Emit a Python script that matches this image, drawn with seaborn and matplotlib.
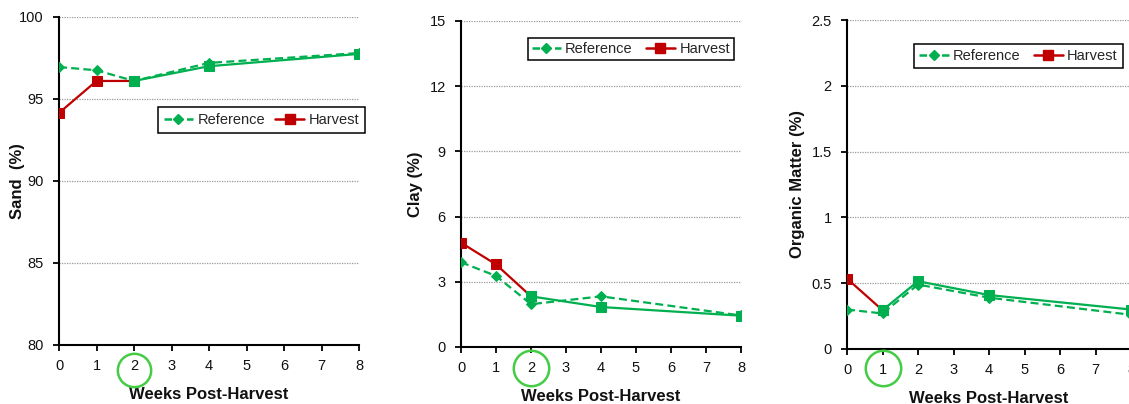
import matplotlib
matplotlib.use("Agg")
import matplotlib.pyplot as plt
import seaborn as sns
from matplotlib.transforms import blended_transform_factory
from matplotlib.lines import Line2D

# ---------------- data ----------------
weeks = [0, 1, 2, 4, 8]
sand_reference = [96.95, 96.75, 96.1, 97.2, 97.8]
sand_harvest = [94.15, 96.1, 96.1, 97.0, 97.75]
clay_reference = [3.9, 3.27, 1.97, 2.33, 1.45]
clay_harvest = [4.8, 3.8, 2.33, 1.84, 1.44]
om_reference = [0.30, 0.27, 0.49, 0.39, 0.26]
om_harvest = [0.535, 0.295, 0.515, 0.41, 0.30]
circled_week = [2, 2, 1]
series_names = ["Reference", "Harvest"]
y_labels = ["Sand  (%)", "Clay (%)", "Organic Matter (%)"]
y_ticks = [[80, 85, 90, 95, 100], [0, 3, 6, 9, 12, 15], [0, 0.5, 1, 1.5, 2, 2.5]]
y_ticklabels = [["80", "85", "90", "95", "100"],
                ["0", "3", "6", "9", "12", "15"],
                ["0", "0.5", "1", "1.5", "2", "2.5"]]
x_ticks = list(range(9))
x_label = "Weeks Post-Harvest"

# ---------------- style ----------------
sns.set_theme(style="white")
plt.rcParams["font.family"] = ["Liberation Sans", "DejaVu Sans"]

GREEN = "#00B050"
RED = "#C00000"
CIRCLE = "#44CC44"
W, H = 1129, 404

fig = plt.figure(figsize=(W / 100, H / 100), dpi=100)

# axes placement in pixels: left, right, top, bottom
boxes = [(59, 359, 17, 345), (461, 741, 21, 347), (847, 1131, 20, 349)]
ylab_x = [-0.113, -0.136, -0.148]
legend_anchor = [(0.33, 0.7256), (0.239, 0.947), (0.237, 0.927)]
legend_pad = [0.4, 0.25, 0.35]
legend_colsp = [0.7, 0.9, 0.9]
circle_y = [-0.076, -0.064, -0.058]
circle_ms = [24, 25.5, 25.5]

refs = [sand_reference, clay_reference, om_reference]
harvs = [sand_harvest, clay_harvest, om_harvest]

dash = (0, (3.6, 1.9))

for i in range(3):
    l, r, t, b = boxes[i]
    ax = fig.add_axes([l / W, (H - b) / H, (r - l) / W, (b - t) / H])

    # Reference series
    sns.lineplot(x=weeks, y=refs[i], ax=ax, color=GREEN, linestyle=dash,
                 linewidth=1.6, marker="D", markersize=5,
                 markeredgecolor=GREEN, markerfacecolor=GREEN, sort=False, zorder=3)

    cw = circled_week[i]
    red_x = [w for w in weeks if w <= cw]
    red_y = [v for w, v in zip(weeks, harvs[i]) if w <= cw]
    grn_x = [w for w in weeks if w >= cw]
    grn_y = [v for w, v in zip(weeks, harvs[i]) if w >= cw]
    sns.lineplot(x=red_x, y=red_y, ax=ax, color=RED, linewidth=1.6,
                 marker="s", markersize=6.5, markeredgecolor=RED,
                 markerfacecolor=RED, sort=False, zorder=4)
    sns.lineplot(x=grn_x, y=grn_y, ax=ax, color=GREEN, linewidth=1.6,
                 marker="s", markersize=6.5, markeredgecolor=GREEN,
                 markerfacecolor=GREEN, sort=False, zorder=5)

    ax.set_xlim(0, 8)
    ax.set_ylim(y_ticks[i][0], y_ticks[i][-1])
    ax.set_xticks(x_ticks)
    ax.set_xticklabels([str(x) for x in x_ticks], fontsize=10.5, color="#111111")
    ax.set_yticks(y_ticks[i])
    ax.set_yticklabels(y_ticklabels[i], fontsize=10.5, color="#111111")

    ax.grid(axis="y", color="#9a9a9a", linestyle=(0, (1, 1)), linewidth=0.9)
    ax.grid(axis="x", visible=False)
    ax.set_axisbelow(True)

    for s in ["top", "right"]:
        ax.spines[s].set_visible(False)
    for s in ["left", "bottom"]:
        ax.spines[s].set_color("black")
        ax.spines[s].set_linewidth(1.5)
    ax.tick_params(axis="both", direction="out", length=4, width=1.3,
                   color="black", left=True, bottom=True)
    ax.tick_params(axis="y", pad=7)
    ax.tick_params(axis="x", pad=6)

    ax.set_ylabel(y_labels[i], fontsize=12, fontweight="bold", color="#111111")
    ax.yaxis.set_label_coords(ylab_x[i], 0.5)
    ax.set_xlabel(x_label, fontsize=12, fontweight="bold", color="#111111",
                  va="top")
    ax.xaxis.set_label_coords(0.5, -0.128)

    handles = [
        Line2D([], [], color=GREEN, linestyle=(0, (3.0, 1.5)), linewidth=1.8,
               marker="D", markersize=5.5),
        Line2D([], [], color=RED, linewidth=1.8, marker="s", markersize=7),
    ]
    leg = ax.legend(handles, series_names, loc="upper left",
                    bbox_to_anchor=legend_anchor[i], ncol=2, fontsize=10.5,
                    frameon=True, fancybox=False, framealpha=1,
                    edgecolor="black", handlelength=2.0, handletextpad=0.3,
                    columnspacing=legend_colsp[i], borderpad=legend_pad[i],
                    borderaxespad=0)
    leg.get_frame().set_linewidth(1.1)

    # circle highlighting the tick label of the chosen week
    tr = blended_transform_factory(ax.transData, ax.transAxes)
    ax.plot([cw], [circle_y[i]], marker="o", markersize=circle_ms[i],
            markerfacecolor="none", markeredgecolor=CIRCLE, markeredgewidth=1.8,
            transform=tr, clip_on=False, linestyle="none", zorder=10)

fig.savefig("out.png", dpi=100)
